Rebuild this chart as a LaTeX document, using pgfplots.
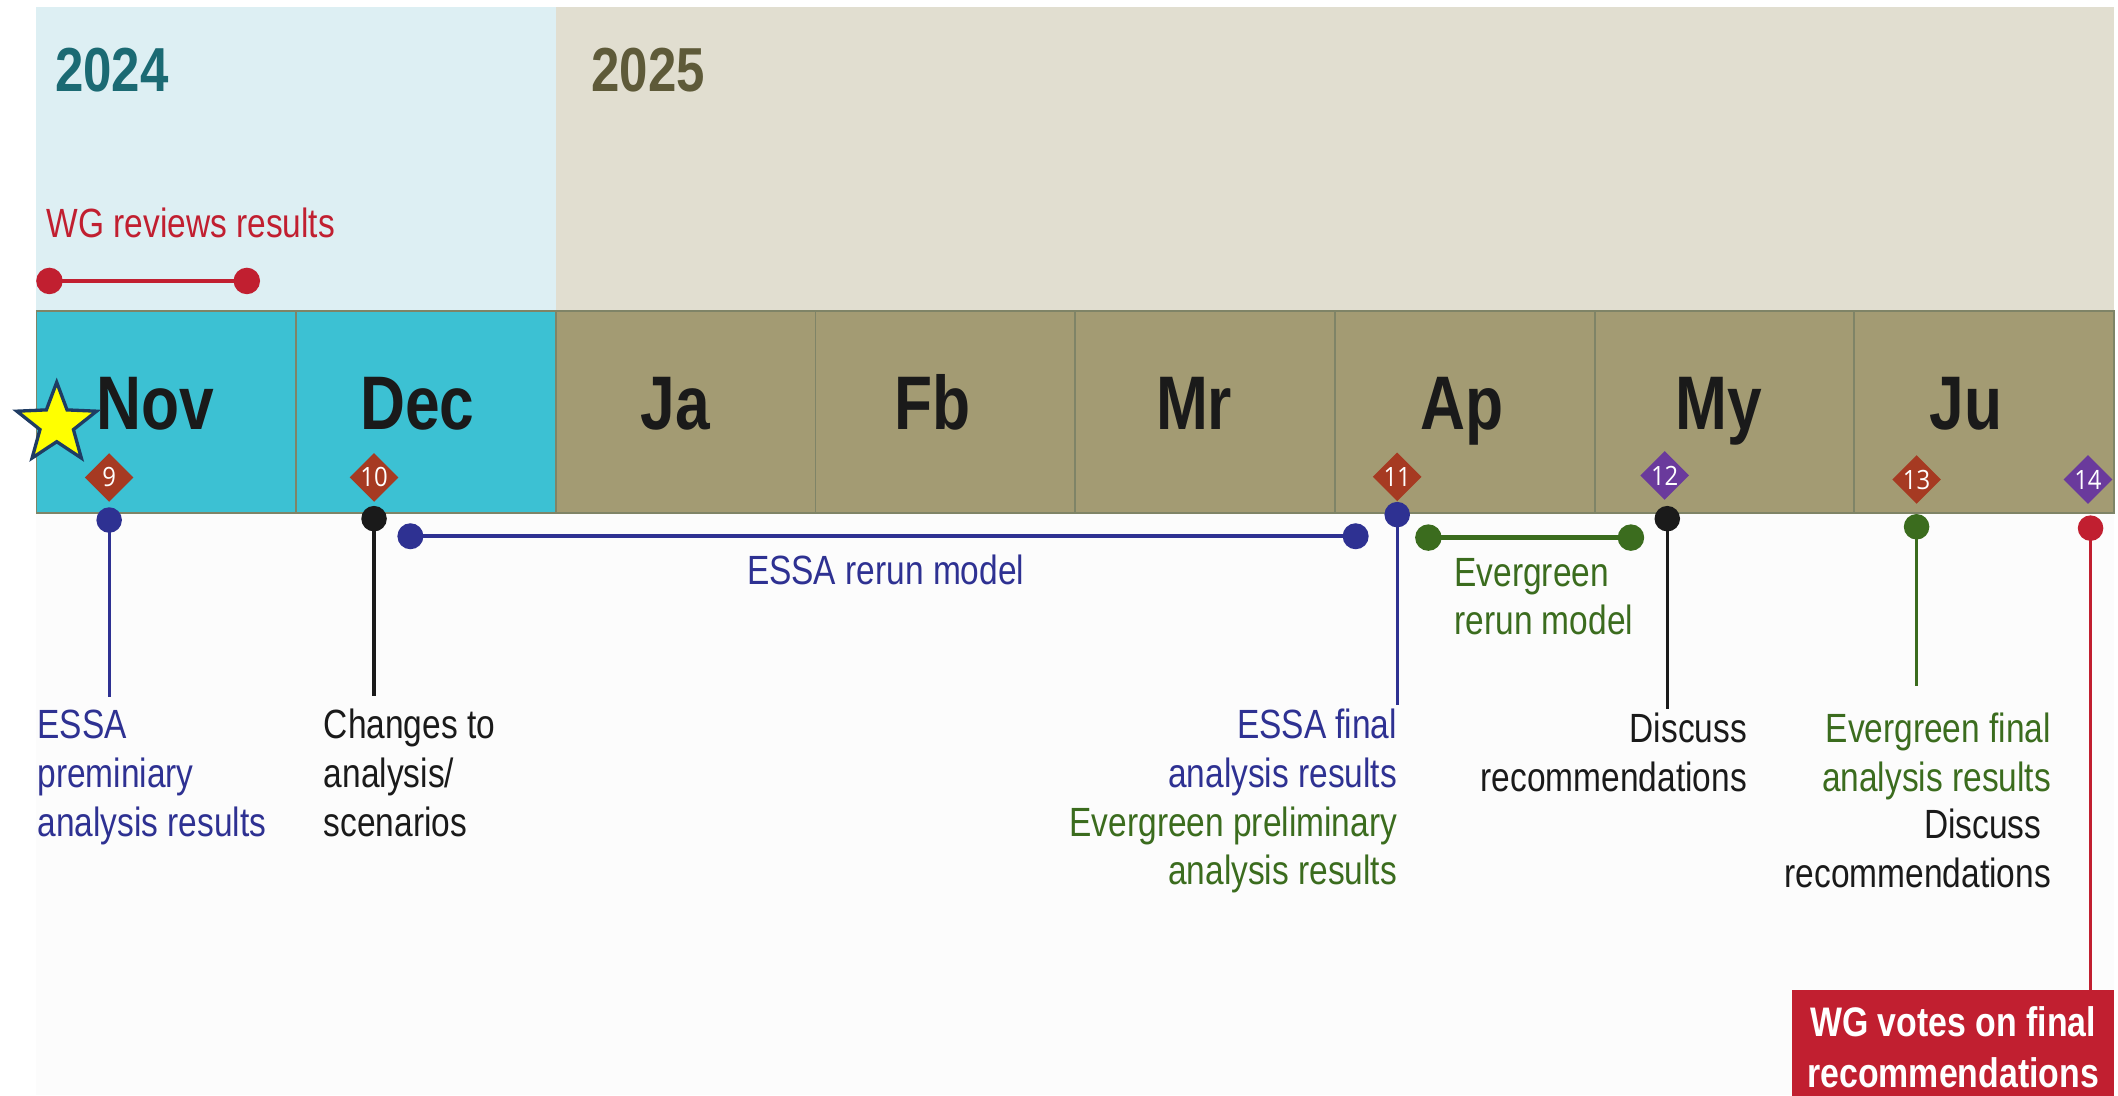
\documentclass[border=0pt]{standalone}
\usepackage{pgfplots}
\pgfplotsset{compat=1.18}
\usepackage{fontspec}
\setmainfont[FakeStretch=0.82]{Liberation Sans}
\newfontfamily\numfont[FakeStretch=0.9]{Open Sans}

\definecolor{yr24bg}{HTML}{DDEFF3}
\definecolor{yr25bg}{HTML}{E1DED0}
\definecolor{mteal}{HTML}{3CC1D3}
\definecolor{molive}{HTML}{A39B73}
\definecolor{sepline}{HTML}{7F8467}
\definecolor{lowbg}{HTML}{FCFCFC}
\definecolor{yr24}{HTML}{1B6A73}
\definecolor{yr25}{HTML}{5E5A39}
\definecolor{wgred}{HTML}{C11F30}
\definecolor{essablue}{HTML}{2E3192}
\definecolor{evgreen}{HTML}{3B6C1E}
\definecolor{ink}{HTML}{1A1A1A}
\definecolor{dred}{HTML}{A63A22}
\definecolor{dpurple}{HTML}{6A3A9C}
\definecolor{starfill}{HTML}{FFFF00}
\definecolor{starline}{HTML}{1F3C63}

\pgfdeclareplotmark{fivestar}{%
  \pgfpathmoveto{\pgfpointpolar{90}{\pgfplotmarksize}}%
  \pgfpathlineto{\pgfpointpolar{126}{0.42\pgfplotmarksize}}%
  \pgfpathlineto{\pgfpointpolar{162}{\pgfplotmarksize}}%
  \pgfpathlineto{\pgfpointpolar{198}{0.42\pgfplotmarksize}}%
  \pgfpathlineto{\pgfpointpolar{234}{\pgfplotmarksize}}%
  \pgfpathlineto{\pgfpointpolar{270}{0.42\pgfplotmarksize}}%
  \pgfpathlineto{\pgfpointpolar{306}{\pgfplotmarksize}}%
  \pgfpathlineto{\pgfpointpolar{342}{0.42\pgfplotmarksize}}%
  \pgfpathlineto{\pgfpointpolar{18}{\pgfplotmarksize}}%
  \pgfpathlineto{\pgfpointpolar{54}{0.42\pgfplotmarksize}}%
  \pgfpathclose
  \pgfusepathqfillstroke}

\pgfdeclareplotmark{sqdiamond}{%
  \pgfpathmoveto{\pgfqpoint{0pt}{\pgfplotmarksize}}%
  \pgfpathlineto{\pgfqpoint{\pgfplotmarksize}{0pt}}%
  \pgfpathlineto{\pgfqpoint{0pt}{-\pgfplotmarksize}}%
  \pgfpathlineto{\pgfqpoint{-\pgfplotmarksize}{0pt}}%
  \pgfpathclose
  \pgfusepathqfill}

\newcommand\lab{\fontsize{8.6}{10.2}\selectfont}
\tikzset{
  lbl/.style={inner sep=0pt, font=\lab},
  dot/.style={mark=*, mark size=0.82mm, mark options={solid}},
}

\begin{document}
\begin{tikzpicture}
\begin{axis}[name=tl, hide axis, scale only axis,
  width=156.8mm, height=81.1mm,
  xmin=-0.1404, xmax=8.0156, ymin=0, ymax=811, y dir=reverse,
]
% backgrounds
\addplot[fill=yr24bg, draw=none] coordinates {(0,5) (2,5) (2,230) (0,230)} -- cycle;
\addplot[fill=yr25bg, draw=none] coordinates {(2,5) (8,5) (8,230) (2,230)} -- cycle;
\addplot[fill=lowbg, draw=none] coordinates {(0,380) (8,380) (8,811) (0,811)} -- cycle;
% month blocks
\addplot[fill=mteal, draw=sepline, line width=0.4pt] coordinates {(0,230) (1,230) (1,380) (0,380)} -- cycle;
\addplot[fill=mteal, draw=sepline, line width=0.4pt] coordinates {(1,230) (2,230) (2,380) (1,380)} -- cycle;
\addplot[fill=molive, draw=sepline, line width=0.4pt] coordinates {(2,230) (3,230) (3,380) (2,380)} -- cycle;
\addplot[fill=molive, draw=sepline, line width=0.4pt] coordinates {(3,230) (4,230) (4,380) (3,380)} -- cycle;
\addplot[fill=molive, draw=sepline, line width=0.4pt] coordinates {(4,230) (5,230) (5,380) (4,380)} -- cycle;
\addplot[fill=molive, draw=sepline, line width=0.4pt] coordinates {(5,230) (6,230) (6,380) (5,380)} -- cycle;
\addplot[fill=molive, draw=sepline, line width=0.4pt] coordinates {(6,230) (7,230) (7,380) (6,380)} -- cycle;
\addplot[fill=molive, draw=sepline, line width=0.4pt] coordinates {(7,230) (8,230) (8,380) (7,380)} -- cycle;

% year labels
\node[anchor=base west, inner sep=0pt, text=yr24, font=\fontsize{13.1}{14}\selectfont\bfseries] at (axis cs:0.068,68) {2024};
\node[anchor=base west, inner sep=0pt, text=yr25, font=\fontsize{13.1}{14}\selectfont\bfseries] at (axis cs:2.133,68) {2025};

% month labels
\node[anchor=base, inner sep=0pt, text=ink, font=\fontsize{16}{18}\selectfont\bfseries] at (axis cs:0.458,318) {Nov};
\node[anchor=base, inner sep=0pt, text=ink, font=\fontsize{16}{18}\selectfont\bfseries] at (axis cs:1.467,318) {Dec};
\node[anchor=base, inner sep=0pt, text=ink, font=\fontsize{16}{18}\selectfont\bfseries] at (axis cs:2.46,318) {Ja};
\node[anchor=base, inner sep=0pt, text=ink, font=\fontsize{16}{18}\selectfont\bfseries] at (axis cs:3.45,318) {Fb};
\node[anchor=base, inner sep=0pt, text=ink, font=\fontsize{16}{18}\selectfont\bfseries] at (axis cs:4.458,318) {Mr};
\node[anchor=base, inner sep=0pt, text=ink, font=\fontsize{16}{18}\selectfont\bfseries] at (axis cs:5.488,318) {Ap};
\node[anchor=base, inner sep=0pt, text=ink, font=\fontsize{16}{18}\selectfont\bfseries] at (axis cs:6.48,318) {My};
\node[anchor=base, inner sep=0pt, text=ink, font=\fontsize{16}{18}\selectfont\bfseries] at (axis cs:7.43,318) {Ju};

% star
\addplot[only marks, mark=fivestar, mark size=3.1mm, mark options={fill=starfill, draw=starline, line width=0.7pt}] coordinates {(0.078,314)};

% WG reviews results
\node[lbl, anchor=base west, text=wgred] at (axis cs:0.036,176) {WG reviews results};
\addplot[wgred, line width=0.9pt, dot] coordinates {(0.05,208) (0.81,208)};

% range bars
\addplot[essablue, line width=0.8pt, dot] coordinates {(1.44,397) (5.08,397)};
\addplot[evgreen, line width=0.9pt, dot] coordinates {(5.36,398) (6.14,398)};

% stems
\addplot[essablue, line width=0.7pt, dot, mark indices={1}] coordinates {(0.28,385) (0.28,516)};
\addplot[ink, line width=0.7pt, dot, mark indices={1}] coordinates {(1.30,384) (1.30,515)};
\addplot[essablue, line width=0.7pt, dot, mark indices={1}] coordinates {(5.24,381) (5.24,522)};
\addplot[ink, line width=0.7pt, dot, mark indices={1}] coordinates {(6.28,384) (6.28,525)};
\addplot[evgreen, line width=0.7pt, dot, mark indices={1}] coordinates {(7.24,390) (7.24,508)};
\addplot[wgred, line width=0.7pt, dot, mark indices={1}] coordinates {(7.91,391) (7.91,733)};

% diamonds
\addplot[only marks, mark=sqdiamond, mark size=1.8mm, mark options={fill=dred},
  point meta=explicit symbolic, nodes near coords,
  every node near coord/.append style={anchor=center, text=white, inner sep=0pt, font=\numfont\fontsize{5.6}{6}\selectfont}]
  coordinates {(0.28,353.5)[9] (1.30,353.5)[10] (5.24,353)[11] (7.24,355)[13]};
\addplot[only marks, mark=sqdiamond, mark size=1.8mm, mark options={fill=dpurple},
  point meta=explicit symbolic, nodes near coords,
  every node near coord/.append style={anchor=center, text=white, inner sep=0pt, font=\numfont\fontsize{5.6}{6}\selectfont}]
  coordinates {(6.27,352)[12] (7.90,355)[14]};

% red box
\addplot[fill=wgred, draw=none] coordinates {(6.762,733) (8.0,733) (8.0,840) (6.762,840)} -- cycle;

% text labels
\node[lbl, anchor=base west, text=essablue] at (axis cs:0,547) {ESSA};
\node[lbl, anchor=base west, text=essablue] at (axis cs:0,583) {preminiary};
\node[lbl, anchor=base west, text=essablue] at (axis cs:0,619) {analysis results};

\node[lbl, anchor=base west, text=ink] at (axis cs:1.103,547) {Changes to};
\node[lbl, anchor=base west, text=ink] at (axis cs:1.103,583) {analysis/};
\node[lbl, anchor=base west, text=ink] at (axis cs:1.103,619) {scenarios};

\node[lbl, anchor=base, text=essablue] at (axis cs:3.27,433) {ESSA rerun model};

\node[lbl, anchor=base west, text=evgreen] at (axis cs:5.457,434) {Evergreen};
\node[lbl, anchor=base west, text=evgreen] at (axis cs:5.457,470) {rerun model};

\node[lbl, anchor=base east, text=essablue] at (axis cs:5.243,547) {ESSA final};
\node[lbl, anchor=base east, text=essablue] at (axis cs:5.243,583) {analysis results};
\node[lbl, anchor=base east, text=evgreen] at (axis cs:5.243,619) {Evergreen preliminary};
\node[lbl, anchor=base east, text=evgreen] at (axis cs:5.243,655) {analysis results};

\node[lbl, anchor=base east, text=ink] at (axis cs:6.59,550) {Discuss};
\node[lbl, anchor=base east, text=ink] at (axis cs:6.59,586) {recommendations};

\node[lbl, anchor=base east, text=evgreen] at (axis cs:7.761,550) {Evergreen final};
\node[lbl, anchor=base east, text=evgreen] at (axis cs:7.761,586) {analysis results};
\node[lbl, anchor=base east, text=ink] at (axis cs:7.724,621) {Discuss};
\node[lbl, anchor=base east, text=ink] at (axis cs:7.761,657) {recommendations};

\node[inner sep=0pt, anchor=base, text=white, font=\fontsize{8.7}{10}\selectfont\bfseries] at (axis cs:7.381,767) {WG votes on final};
\node[inner sep=0pt, anchor=base, text=white, font=\fontsize{8.7}{10}\selectfont\bfseries] at (axis cs:7.381,805) {recommendations};
\end{axis}
\pgfresetboundingbox
\path[use as bounding box] (tl.south west) rectangle (tl.north east);
\end{tikzpicture}
\end{document}
